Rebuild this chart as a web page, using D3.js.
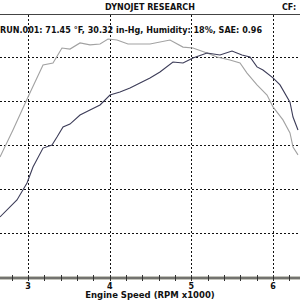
<!DOCTYPE html>
<html>
<head>
<meta charset="utf-8">
<script src="https://cdn.jsdelivr.net/npm/d3@7"></script>
<style>
  body { margin: 0; background: #fff; }
  svg { display: block; }
  text { font-family: "DejaVu Sans", Verdana, sans-serif; font-weight: bold; fill: #111; }
</style>
</head>
<body>
<svg id="chart" width="300" height="300"></svg>
<script>
// Data (rpm x1000, arbitrary power/torque units)
const torqueRpm = [2.657, 2.816, 3.0, 3.184, 3.306, 3.416, 3.514, 3.637, 3.759, 3.882, 3.98, 4.09, 4.224,
  4.494, 4.739, 4.898, 5.02, 5.192, 5.314, 5.473, 5.596, 5.682, 5.804, 5.927, 6.0, 6.122, 6.208, 6.245, 6.306];
const torqueVals = [54.5, 66.8, 81.8, 96.4, 97.3, 104.1, 103.6, 106.4, 105.5, 105.9, 108.2, 107.7, 105.9,
  105.9, 107.7, 104.5, 104.1, 101.8, 100, 98.6, 97.3, 92.7, 87.3, 82.7, 77.3, 71.4, 65.5, 59.1, 55.5];

const powerRpm = [2.657, 2.865, 2.988, 3.061, 3.184, 3.294, 3.355, 3.429, 3.514, 3.637, 3.759, 3.882, 4.004,
  4.126, 4.249, 4.371, 4.494, 4.616, 4.775, 4.898, 5.02, 5.192, 5.351, 5.498, 5.62, 5.718, 5.804, 5.877,
  6.0, 6.086, 6.208, 6.245, 6.306];
const powerVals = [27.3, 35.0, 42.7, 50.0, 58.6, 60.0, 63.6, 68.2, 69.5, 73.6, 75.9, 78.2, 82.7,
  84.1, 85.9, 88.2, 90.5, 93.2, 97.7, 97.3, 99.5, 101.8, 100.9, 102.7, 100.9, 100, 95.5, 94.1,
  90.5, 87.3, 79.5, 72.7, 66.8];

const xTicks = [3, 4, 5, 6];
const yGrid = [20, 40, 60, 80, 100];

const title = 'DYNOJET RESEARCH';
const runInfo = 'RUN.001: 71.45 °F, 30.32 in-Hg, Humidity: 18%, SAE: 0.96';
const xTitle = 'Engine Speed (RPM x1000)';

const width = 300;
const svg = d3.select('#chart');

// Scales
const x = d3.scaleLinear().domain([3, 6]).range([28, 273]);
const y = d3.scaleLinear().domain([0, 120]).range([277, 13]);

// Header
svg.append('text')
  .attr('x', 150).attr('y', 9.5)
  .attr('text-anchor', 'middle')
  .style('font-size', '8px')
  .text(title);

svg.append('text')
  .attr('x', 282).attr('y', 9.5)
  .style('font-size', '8px')
  .text('CF:');

svg.append('line')
  .attr('x1', 0).attr('x2', width)
  .attr('y1', 14.5).attr('y2', 14.5)
  .attr('stroke', '#444').attr('stroke-width', 1);

// Grid
svg.append('g')
  .selectAll('line')
  .data(yGrid)
  .enter()
  .append('line')
  .attr('x1', 0).attr('x2', width)
  .attr('y1', (d) => Math.round(y(d)) + 0.5)
  .attr('y2', (d) => Math.round(y(d)) + 0.5)
  .attr('stroke', '#111')
  .attr('stroke-dasharray', '2,2');

svg.append('g')
  .selectAll('line')
  .data(xTicks)
  .enter()
  .append('line')
  .attr('x1', (d) => Math.round(x(d)) + 0.5)
  .attr('x2', (d) => Math.round(x(d)) + 0.5)
  .attr('y1', 15).attr('y2', y(0))
  .attr('stroke', '#111')
  .attr('stroke-dasharray', '2,2');

// Run info
svg.append('text')
  .attr('x', 0).attr('y', 33)
  .style('font-size', '8px')
  .attr('textLength', 262)
  .attr('lengthAdjust', 'spacingAndGlyphs')
  .text(runInfo);

// Curves
const line = d3.line()
  .x((d) => x(d[0]))
  .y((d) => y(d[1]));

svg.append('path')
  .attr('d', line(d3.zip(torqueRpm, torqueVals)))
  .attr('fill', 'none')
  .attr('stroke', '#a2a2a2')
  .attr('stroke-width', 1.1);

svg.append('path')
  .attr('d', line(d3.zip(powerRpm, powerVals)))
  .attr('fill', 'none')
  .attr('stroke', '#3c3c58')
  .attr('stroke-width', 1.1);

// Axis band
svg.append('rect')
  .attr('x', 0).attr('y', 276)
  .attr('width', width).attr('height', 4)
  .attr('fill', '#c4c4bc');

svg.append('line')
  .attr('x1', 0).attr('x2', width)
  .attr('y1', 278).attr('y2', 278)
  .attr('stroke', '#222').attr('stroke-width', 1);

const minorTicks = d3.range(26, 64, 2).map((d) => d / 10);
svg.append('g')
  .selectAll('line')
  .data(minorTicks)
  .enter()
  .append('line')
  .attr('x1', (d) => Math.round(x(d)) + 0.5)
  .attr('x2', (d) => Math.round(x(d)) + 0.5)
  .attr('y1', 275).attr('y2', 281)
  .attr('stroke', '#333');

svg.append('g')
  .selectAll('text')
  .data(xTicks)
  .enter()
  .append('text')
  .attr('x', (d) => x(d))
  .attr('y', 289)
  .attr('text-anchor', 'middle')
  .style('font-size', '8px')
  .text((d) => d);

svg.append('text')
  .attr('x', 150).attr('y', 297.5)
  .attr('text-anchor', 'middle')
  .style('font-size', '8.5px')
  .text(xTitle);
</script>
</body>
</html>
